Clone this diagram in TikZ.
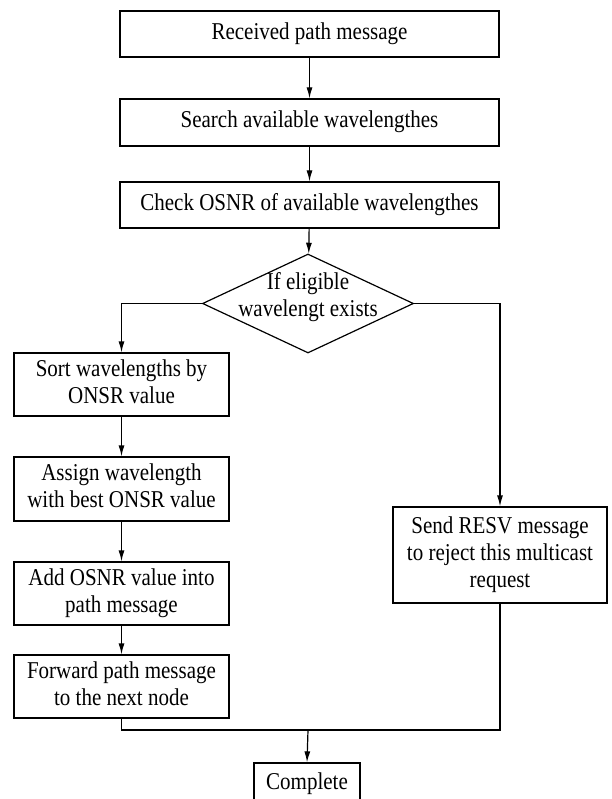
\documentclass[tikz,border=0pt]{standalone}
\usepackage{fontspec}
\usepackage{graphicx}
\setmainfont{Liberation Serif}
\usetikzlibrary{shapes.geometric,arrows.meta}
\newcommand{\vtext}[1]{\scalebox{1}[1.15]{\begin{tabular}{@{}c@{}}#1\end{tabular}}}
\begin{document}
\begin{tikzpicture}[x=1pt,y=-1pt,
  every node/.style={font=\fontsize{21}{23.2}\selectfont, inner sep=0pt},
  box/.style={draw, line width=1.2pt, minimum height=46pt},
  mainbox/.style={box, minimum width=379pt},
  leftbox/.style={box, minimum width=215pt, minimum height=63pt},
  arr/.style={-{Latex[length=11pt,width=6pt]}},
  conn/.style={line width=1.2pt}]
\useasboundingbox (0,0) rectangle (611,799);
\clip (0,0) rectangle (611,799);
\fill[white] (0,0) rectangle (611,799);
\node[mainbox] (b1) at (309.5,34) {\vtext{Received path message}};
\node[mainbox, minimum height=47pt] (b2) at (309.5,122.5) {\vtext{Search available wavelengthes}};
\node[mainbox] (b3) at (309.5,205) {\vtext{Check OSNR of available wavelengthes}};
\node[diamond, draw, line width=1.2pt, minimum width=211pt, minimum height=99pt] (d) at (308,303.5) {};
\node (dt) at (308,298) {\vtext{If eligible\\wavelengt exists}};
\node[leftbox] (sort) at (121.5,384.5) {\vtext{Sort wavelengths by\\ONSR value}};
\node[leftbox, minimum height=64pt] (assign) at (121.5,489) {\vtext{Assign wavelength\\with best ONSR value}};
\node[leftbox] (add) at (121.5,593.5) {\vtext{Add OSNR value into\\path message}};
\node[leftbox] (fwd) at (121.5,686.5) {\vtext{Forward path message\\to the next node}};
\node[box, minimum width=214pt, minimum height=96pt] (resv) at (500,555) {\vtext{Send RESV message\\to reject this multicast\\request}};
\node[box, minimum width=106pt, minimum height=42pt] (comp) at (307,784) {\vtext{Complete}};
\coordinate (j) at (308,730);
\draw[conn,arr] (b1) -- (b2);
\draw[conn,arr] (b2) -- (b3);
\draw[conn,arr] (b3) -- (d);
\draw[conn,arr] (d.west) -| (sort.north);
\draw[conn,arr] (d.east) -| (resv.north);
\draw[conn,arr] (sort) -- (assign);
\draw[conn,arr] (assign) -- (add);
\draw[conn,arr] (add) -- (fwd);
\draw[conn] (fwd.south) |- (j);
\draw[conn] (resv.south) |- (j);
\draw[conn,arr] (j) -- (comp.north);
\end{tikzpicture}
\end{document}
